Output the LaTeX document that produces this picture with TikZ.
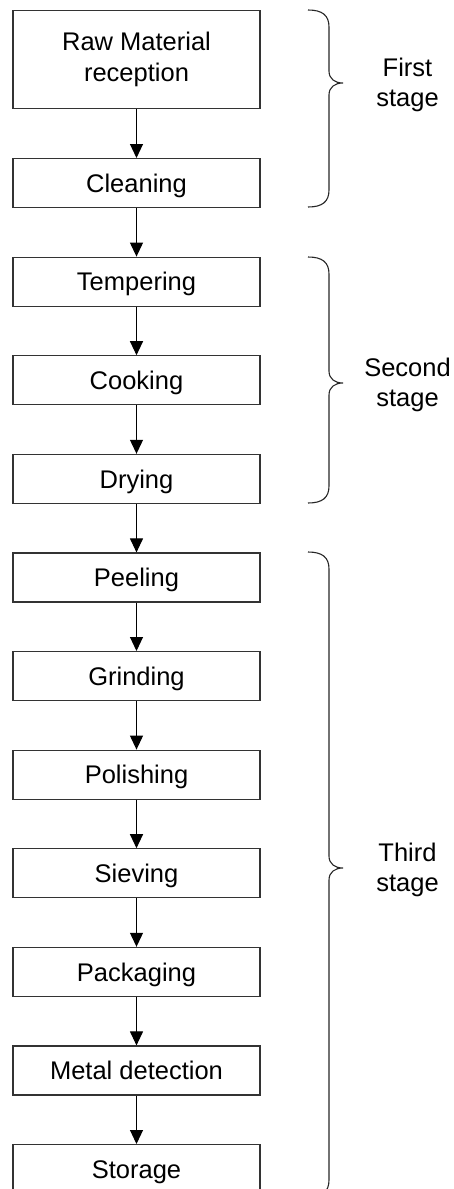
\documentclass[tikz,border=0pt]{standalone}
\usepackage{fontspec}
\setmainfont{Liberation Sans}
\usetikzlibrary{arrows.meta}

\tikzset{
  stepbox/.style={draw=black!80, line width=1.1pt, minimum width=247pt,
    minimum height=49pt, inner sep=0pt, anchor=north, align=center,
    font=\fontsize{25.5}{31}\selectfont},
  onebox/.style={stepbox, text height=18.3pt, text depth=0pt},
  flow/.style={line width=1.1pt, -{Triangle[width=13pt,length=14pt]}},
  stagebrace/.style={draw=black!85, line width=1.1pt},
  stagelabel/.style={align=center, anchor=base, inner sep=0pt,
    font=\fontsize{25.5}{30}\selectfont}
}

% curly brace: top end, tip, bottom end (y grows downward)
\newcommand{\stagebrace}[3]{%
  \draw[stagebrace] (308,#1) .. controls (322,#1) and (329,#1+5) .. (329,#1+17)
    -- (329,#2-12) .. controls (329,#2-4) and (335,#2) .. (343,#2)
    .. controls (335,#2) and (329,#2+4) .. (329,#2+12)
    -- (329,#3-17) .. controls (329,#3-5) and (322,#3) .. (308,#3);}

\begin{document}
\begin{tikzpicture}[x=1pt,y=-1pt]
\useasboundingbox (0,0) rectangle (453,1189);
\clip (0,0) rectangle (453,1189);

% process steps
\node[stepbox, minimum height=98pt] (raw) at (136.5,10) {Raw Material\\reception};
\node[onebox] (clean)   at (136.5,158)    {Cleaning};
\node[onebox] (temper)  at (136.5,256.6)  {Tempering};
\node[onebox] (cook)    at (136.5,355.2)  {Cooking};
\node[onebox] (dry)     at (136.5,453.8)  {Drying};
\node[onebox] (peel)    at (136.5,552.4)  {Peeling};
\node[onebox] (grind)   at (136.5,651)    {Grinding};
\node[onebox] (polish)  at (136.5,749.6)  {Polishing};
\node[onebox] (sieve)   at (136.5,848.2)  {Sieving};
\node[onebox] (pack)    at (136.5,946.8)  {Packaging};
\node[onebox] (metal)   at (136.5,1045.4) {Metal detection};
\node[onebox] (store)   at (136.5,1144)   {Storage};

% flow arrows
\draw[flow] (raw) -- (clean);
\draw[flow] (clean) -- (temper);
\draw[flow] (temper) -- (cook);
\draw[flow] (cook) -- (dry);
\draw[flow] (dry) -- (peel);
\draw[flow] (peel) -- (grind);
\draw[flow] (grind) -- (polish);
\draw[flow] (polish) -- (sieve);
\draw[flow] (sieve) -- (pack);
\draw[flow] (pack) -- (metal);
\draw[flow] (metal) -- (store);

% stage braces
\stagebrace{10}{83}{207}
\stagebrace{257}{383}{503}
\stagebrace{552}{868}{1197}

% stage labels (base anchor sits on the last line)
\node[stagelabel] (first)  at (407.5,106) {First\\stage};
\node[stagelabel] (second) at (407.5,406) {Second\\stage};
\node[stagelabel] (third)  at (407.5,891) {Third\\stage};
\end{tikzpicture}
\end{document}
